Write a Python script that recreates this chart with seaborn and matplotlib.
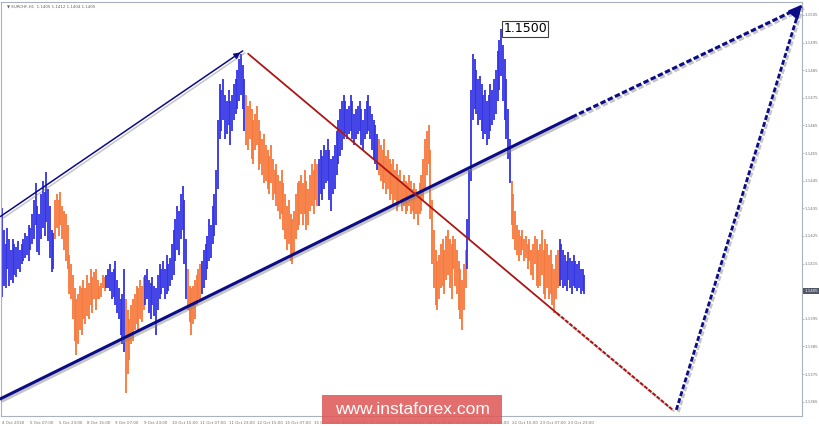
import numpy as np
import pandas as pd
import matplotlib
matplotlib.use("Agg")
import matplotlib.pyplot as plt
import matplotlib.patheffects as pe
from matplotlib.patches import Rectangle
import seaborn as sns

# EURCHF H1 - high / low of each bar
high = [
    1.1435, 1.1427, 1.1422, 1.1428, 1.1424, 1.1420, 1.1424, 1.1422, 1.1421, 1.1423,
    1.1420, 1.1422, 1.1424, 1.1426, 1.1425, 1.1429, 1.1428, 1.1433, 1.1438, 1.1444,
    1.1436, 1.1433, 1.1440, 1.1445, 1.1441, 1.1448, 1.1442, 1.1436, 1.1427, 1.1426,
    1.1438, 1.1440, 1.1438, 1.1441, 1.1436, 1.1434, 1.1433, 1.1429, 1.1418, 1.1415,
    1.1411, 1.1406, 1.1402, 1.1404, 1.1407, 1.1406, 1.1409, 1.1406, 1.1411, 1.1408,
    1.1413, 1.1410, 1.1412, 1.1413, 1.1409, 1.1407, 1.1408, 1.1411, 1.1410, 1.1411,
    1.1413, 1.1415, 1.1412, 1.1413, 1.1416, 1.1409, 1.1406, 1.1402, 1.1404, 1.1413,
    1.1402, 1.1398, 1.1395, 1.1400, 1.1402, 1.1404, 1.1407, 1.1406, 1.1409, 1.1407,
    1.1410, 1.1411, 1.1413, 1.1409, 1.1408, 1.1410, 1.1407, 1.1406, 1.1411, 1.1415,
    1.1413, 1.1416, 1.1413, 1.1418, 1.1415, 1.1417, 1.1422, 1.1427, 1.1431, 1.1436,
    1.1434, 1.1440, 1.1443, 1.1438, 1.1424, 1.1413, 1.1407, 1.1406, 1.1407, 1.1409,
    1.1411, 1.1413, 1.1415, 1.1416, 1.1420, 1.1422, 1.1425, 1.1431, 1.1429, 1.1436,
    1.1440, 1.1449, 1.1467, 1.1480, 1.1478, 1.1482, 1.1476, 1.1474, 1.1478, 1.1474,
    1.1476, 1.1480, 1.1482, 1.1485, 1.1489, 1.1491, 1.1487, 1.1482, 1.1476, 1.1472,
    1.1474, 1.1471, 1.1467, 1.1469, 1.1472, 1.1467, 1.1463, 1.1460, 1.1462, 1.1458,
    1.1456, 1.1454, 1.1458, 1.1453, 1.1449, 1.1451, 1.1447, 1.1445, 1.1449, 1.1444,
    1.1440, 1.1436, 1.1438, 1.1433, 1.1431, 1.1434, 1.1440, 1.1444, 1.1445, 1.1447,
    1.1444, 1.1449, 1.1445, 1.1442, 1.1447, 1.1451, 1.1449, 1.1453, 1.1451, 1.1453,
    1.1456, 1.1454, 1.1458, 1.1456, 1.1460, 1.1456, 1.1453, 1.1454, 1.1458, 1.1463,
    1.1467, 1.1471, 1.1474, 1.1476, 1.1474, 1.1471, 1.1472, 1.1476, 1.1474, 1.1469,
    1.1471, 1.1472, 1.1474, 1.1471, 1.1467, 1.1471, 1.1474, 1.1476, 1.1472, 1.1469,
    1.1467, 1.1465, 1.1462, 1.1460, 1.1458, 1.1456, 1.1460, 1.1454, 1.1456, 1.1453,
    1.1451, 1.1453, 1.1449, 1.1451, 1.1447, 1.1449, 1.1445, 1.1447, 1.1445, 1.1444,
    1.1447, 1.1445, 1.1442, 1.1444, 1.1442, 1.1440, 1.1444, 1.1447, 1.1453, 1.1460,
    1.1463, 1.1465, 1.1456, 1.1438, 1.1427, 1.1420, 1.1416, 1.1418, 1.1422, 1.1424,
    1.1420, 1.1425, 1.1427, 1.1424, 1.1422, 1.1425, 1.1424, 1.1420, 1.1416, 1.1413,
    1.1409, 1.1415, 1.1420, 1.1431, 1.1449, 1.1478, 1.1491, 1.1489, 1.1485, 1.1482,
    1.1483, 1.1480, 1.1476, 1.1478, 1.1474, 1.1476, 1.1480, 1.1478, 1.1482, 1.1485,
    1.1492, 1.1496, 1.1500, 1.1494, 1.1489, 1.1482, 1.1471, 1.1460, 1.1445, 1.1440,
    1.1434, 1.1429, 1.1427, 1.1425, 1.1427, 1.1424, 1.1425, 1.1422, 1.1424, 1.1420,
    1.1422, 1.1425, 1.1424, 1.1420, 1.1422, 1.1427, 1.1420, 1.1424, 1.1422, 1.1418,
    1.1420, 1.1415, 1.1413, 1.1418, 1.1420, 1.1424, 1.1422, 1.1420, 1.1418, 1.1416,
    1.1419, 1.1417, 1.1416, 1.1418, 1.1416, 1.1415, 1.1416, 1.1413, 1.1413, 1.1411,
]
low = [
    1.1403, 1.1407, 1.1406, 1.1413, 1.1407, 1.1409, 1.1408, 1.1411, 1.1410, 1.1413,
    1.1412, 1.1415, 1.1416, 1.1417, 1.1418, 1.1416, 1.1420, 1.1422, 1.1424, 1.1429,
    1.1419, 1.1418, 1.1424, 1.1428, 1.1425, 1.1430, 1.1423, 1.1417, 1.1412, 1.1413,
    1.1424, 1.1428, 1.1425, 1.1429, 1.1424, 1.1420, 1.1416, 1.1413, 1.1404, 1.1402,
    1.1395, 1.1387, 1.1382, 1.1386, 1.1391, 1.1389, 1.1395, 1.1393, 1.1396, 1.1395,
    1.1400, 1.1397, 1.1402, 1.1398, 1.1402, 1.1402, 1.1403, 1.1406, 1.1405, 1.1406,
    1.1406, 1.1405, 1.1402, 1.1403, 1.1400, 1.1397, 1.1395, 1.1389, 1.1386, 1.1383,
    1.1368, 1.1375, 1.1380, 1.1386, 1.1387, 1.1391, 1.1393, 1.1391, 1.1395, 1.1394,
    1.1398, 1.1400, 1.1402, 1.1397, 1.1395, 1.1400, 1.1396, 1.1389, 1.1398, 1.1402,
    1.1404, 1.1406, 1.1402, 1.1404, 1.1405, 1.1407, 1.1409, 1.1411, 1.1416, 1.1420,
    1.1418, 1.1424, 1.1427, 1.1415, 1.1402, 1.1398, 1.1394, 1.1389, 1.1393, 1.1395,
    1.1400, 1.1402, 1.1402, 1.1404, 1.1406, 1.1409, 1.1413, 1.1416, 1.1417, 1.1422,
    1.1425, 1.1429, 1.1442, 1.1460, 1.1463, 1.1467, 1.1460, 1.1462, 1.1465, 1.1458,
    1.1463, 1.1467, 1.1469, 1.1471, 1.1474, 1.1476, 1.1471, 1.1463, 1.1458, 1.1456,
    1.1460, 1.1453, 1.1451, 1.1456, 1.1458, 1.1449, 1.1451, 1.1447, 1.1444, 1.1445,
    1.1442, 1.1440, 1.1444, 1.1438, 1.1440, 1.1436, 1.1434, 1.1431, 1.1433, 1.1427,
    1.1424, 1.1420, 1.1422, 1.1416, 1.1415, 1.1418, 1.1424, 1.1427, 1.1429, 1.1433,
    1.1429, 1.1433, 1.1427, 1.1429, 1.1434, 1.1436, 1.1433, 1.1438, 1.1436, 1.1436,
    1.1440, 1.1438, 1.1442, 1.1444, 1.1445, 1.1438, 1.1434, 1.1440, 1.1442, 1.1447,
    1.1451, 1.1454, 1.1456, 1.1460, 1.1462, 1.1460, 1.1462, 1.1463, 1.1460, 1.1458,
    1.1460, 1.1462, 1.1463, 1.1458, 1.1456, 1.1460, 1.1462, 1.1463, 1.1460, 1.1456,
    1.1453, 1.1451, 1.1449, 1.1447, 1.1445, 1.1442, 1.1444, 1.1440, 1.1442, 1.1438,
    1.1440, 1.1436, 1.1438, 1.1434, 1.1436, 1.1438, 1.1434, 1.1436, 1.1433, 1.1434,
    1.1436, 1.1433, 1.1434, 1.1431, 1.1433, 1.1429, 1.1433, 1.1434, 1.1438, 1.1442,
    1.1447, 1.1451, 1.1431, 1.1415, 1.1406, 1.1400, 1.1398, 1.1402, 1.1406, 1.1407,
    1.1404, 1.1409, 1.1411, 1.1406, 1.1402, 1.1413, 1.1407, 1.1404, 1.1398, 1.1395,
    1.1391, 1.1398, 1.1406, 1.1413, 1.1424, 1.1445, 1.1467, 1.1471, 1.1469, 1.1465,
    1.1467, 1.1463, 1.1460, 1.1462, 1.1458, 1.1460, 1.1463, 1.1465, 1.1467, 1.1469,
    1.1474, 1.1478, 1.1483, 1.1474, 1.1467, 1.1460, 1.1453, 1.1444, 1.1429, 1.1424,
    1.1420, 1.1418, 1.1416, 1.1418, 1.1420, 1.1416, 1.1417, 1.1413, 1.1416, 1.1411,
    1.1409, 1.1415, 1.1407, 1.1406, 1.1407, 1.1411, 1.1404, 1.1402, 1.1406, 1.1402,
    1.1404, 1.1400, 1.1397, 1.1402, 1.1406, 1.1407, 1.1409, 1.1406, 1.1407, 1.1405,
    1.1409, 1.1406, 1.1404, 1.1407, 1.1406, 1.1405, 1.1406, 1.1404, 1.1405, 1.1404,
]

# first bar of each wave leg (legs alternate blue / orange)
leg_start = [0, 30, 59, 70, 81, 105, 113, 138, 179, 213, 263, 288, 315]

time_labels = ["4 Oct 2018", "5 Oct 07:00", "5 Oct 23:00", "8 Oct 15:00", "9 Oct 07:00",
               "9 Oct 23:00", "10 Oct 15:00", "11 Oct 07:00", "11 Oct 23:00", "12 Oct 15:00",
               "15 Oct 07:00", "15 Oct 23:00", "16 Oct 15:00", "17 Oct 07:00", "17 Oct 23:00",
               "18 Oct 15:00", "19 Oct 07:00", "19 Oct 23:00", "22 Oct 15:00", "23 Oct 07:00",
               "23 Oct 23:00"]
price_ticks = [1.1365, 1.1375, 1.1385, 1.1395, 1.1405, 1.1415, 1.1425, 1.1435,
               1.1445, 1.1455, 1.1465, 1.1475, 1.1485, 1.1495, 1.1505]
last_price = 1.1405
peak_price = 1.1500
peak_bar = 282

# wave markup lines (bar index, price)
channel_x = [-1, 136]
channel_y = [1.1432, 1.1492]
support_x = [-1, 322, 452]
support_y = [1.1366, 1.1468, 1.1508]
wave_c_x = [139, 313.6, 379]
wave_c_y = [1.1491, 1.1397, 1.1362]
target_x = [381, 451]
target_y = [1.1362, 1.1508]

BLUE = "#3333e4"
ORANGE = "#f7773a"
NAVY = "#0c0c86"
RED = "#b41010"

sns.set_theme(style="white")
plt.rcParams["font.family"] = ["DejaVu Sans"]

fig = plt.figure(figsize=(8.2, 4.26), dpi=100)
ax = fig.add_axes([0.0012, 0.0235, 0.9768, 0.9718])

bars = pd.DataFrame({"high": high, "low": low})
bars["bar"] = np.arange(len(bars))
leg_id = np.searchsorted(leg_start, bars["bar"], side="right") - 1
bars["color"] = np.where(leg_id % 2 == 0, BLUE, ORANGE)

ax.vlines(bars["bar"], bars["low"], bars["high"], colors=bars["color"], linewidth=1.3, zorder=2)

shadow = [pe.SimpleLineShadow(offset=(1.5, -1.5), shadow_color="#808080", alpha=0.45), pe.Normal()]

def seg(xs, ys, color, lw, ls):
    line = sns.lineplot(x=xs, y=ys, color=color, linewidth=lw, linestyle=ls, ax=ax,
                        sort=False, estimator=None, zorder=4)
    line.lines[-1].set_path_effects(shadow)
    line.lines[-1].set_clip_on(False)

seg(channel_x, channel_y, NAVY, 1.1, "-")
seg(support_x[:2], support_y[:2], NAVY, 2.2, "-")
seg(support_x[1:], support_y[1:], NAVY, 2.2, (0, (1.8, 0.8)))
seg(wave_c_x[:2], wave_c_y[:2], RED, 1.2, "-")
seg(wave_c_x[1:], wave_c_y[1:], RED, 1.5, (0, (1.8, 0.8)))
seg(target_x, target_y, NAVY, 2.0, (0, (1.8, 0.8)))

# arrow heads
ax.annotate("", xy=(channel_x[1], channel_y[1]), xytext=(channel_x[1] - 4, channel_y[1] - 0.00018),
            arrowprops=dict(arrowstyle="-|>", color=NAVY, lw=1.0, mutation_scale=9), zorder=5)
ax.annotate("", xy=(target_x[1] + 2, target_y[1] + 0.00015), xytext=(target_x[1] - 4, target_y[1] - 0.0003),
            arrowprops=dict(arrowstyle="-|>", color=NAVY, lw=1.5, mutation_scale=20),
            annotation_clip=False, zorder=5)

ax.set_xlim(-0.6, 452)
ax.set_ylim(1.13598, 1.15097)

tick_pos = np.arange(len(time_labels)) * 16
ax.set_xticks(tick_pos)
ax.set_xticklabels(time_labels, fontsize=2.9, color="#707070", ha="left")
ax.yaxis.tick_right()
ax.set_yticks(price_ticks)
ax.set_yticklabels(["" if p == last_price else f"{p:.4f}" for p in price_ticks],
                   fontsize=2.8, color="#707070")
ax.tick_params(axis="x", length=2, width=0.5, color="#9aa2ae", pad=1.5)
ax.tick_params(axis="y", length=1.2, width=0.5, color="#9aa2ae", pad=0.6)
for s in ax.spines.values():
    s.set_color("#aab2be")
    s.set_linewidth(0.8)
ax.set_xlabel("")
ax.set_ylabel("")

# current price marker on the price scale
ax.text(1.003, last_price, f"{last_price:.4f}", transform=ax.get_yaxis_transform(),
        fontsize=2.8, color="white", va="center", ha="left",
        bbox=dict(boxstyle="square,pad=0.25", fc="#505868", ec="none"))

# high label
ax.text(peak_bar + 1.2, peak_price, f"{peak_price:.4f}", fontsize=9, color="black",
        va="center", ha="left", zorder=6,
        bbox=dict(boxstyle="square,pad=0.12", fc="white", ec="#404040", lw=0.8))

fig.text(0.009, 0.984, "\u25bc EURCHF,H1  1.1405 1.1412 1.1404 1.1405", fontsize=2.9,
         color="#606060", va="center", ha="left")

# watermark
fig.patches.append(Rectangle((0.3927, 0.005), 0.2195, 0.068, transform=fig.transFigure,
                             facecolor="#e05a5a", alpha=0.88, edgecolor="none", zorder=10))
fig.text(0.5025, 0.038, "www.instaforex.com", fontsize=12.5, color="white",
         family=["Liberation Sans", "DejaVu Sans"], ha="center", va="center", zorder=11)

fig.savefig("out.png", dpi=100)
